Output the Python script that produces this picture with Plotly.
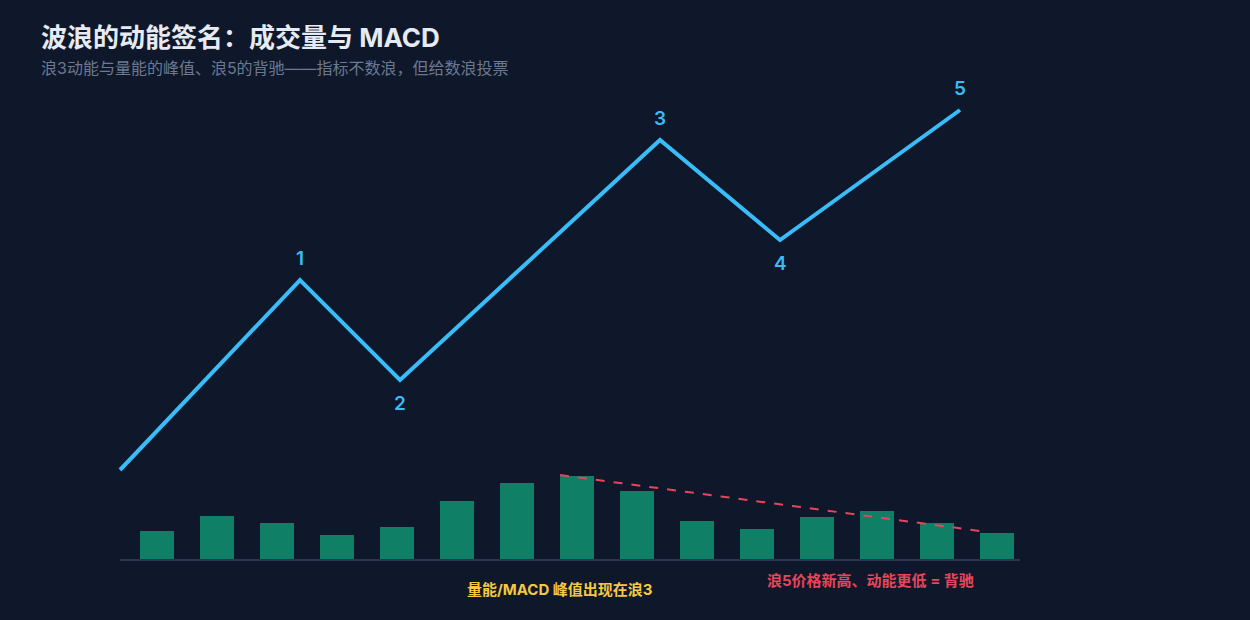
import plotly.graph_objects as go

# --- data ---
wave_labels = ["", "1", "2", "3", "4", "5"]
wave_time = [0, 9, 14, 27, 33, 42]          # time units
wave_price = [90, 280, 180, 420, 320, 450]  # price units
label_side = ["", "above", "below", "above", "below", "above"]

bar_index = list(range(15))
bar_momentum = [29, 44, 37, 25, 33, 59, 77, 84, 69, 39, 31, 43, 49, 37, 27]

div_time = [22, 43]
div_value = [85, 29]

title = "波浪的动能签名：成交量与 MACD"
subtitle = "浪3动能与量能的峰值、浪5的背驰——指标不数浪，但给数浪投票"
note_peak = "量能/MACD 峰值出现在浪3"
note_div = "浪5价格新高、动能更低 = 背驰"

BG = "#0f172a"
BLUE = "#38bdf8"
GREEN = "#0f8066"
RED = "#e8455a"
YELLOW = "#f5c842"
FONT = "Inter, Noto Sans CJK SC"

bar_time = [3 * i + 1.85 for i in bar_index]

fig = go.Figure()

# baseline
fig.add_trace(go.Scatter(x=[0, 45], y=[0, 0], mode="lines",
                         line=dict(color="#2a3650", width=2), hoverinfo="skip"))

fig.add_trace(go.Bar(x=bar_time, y=bar_momentum, width=1.7,
                     marker=dict(color=GREEN, line=dict(width=0)), hoverinfo="skip"))

fig.add_trace(go.Scatter(x=div_time, y=div_value, mode="lines",
                         line=dict(color=RED, width=2, dash="dash"), hoverinfo="skip"))

fig.add_trace(go.Scatter(x=wave_time, y=wave_price, mode="lines",
                         line=dict(color=BLUE, width=4), hoverinfo="skip"))

for t, p, lab, side in zip(wave_time, wave_price, wave_labels, label_side):
    if not lab:
        continue
    fig.add_annotation(x=t, y=p, text=lab, showarrow=False,
                       yshift=22 if side == "above" else -23,
                       font=dict(family=FONT, size=19, color=BLUE, weight=600))

# title block, placed in paper coords
fig.add_annotation(x=0.0315, y=1 - 37 / 620, xref="paper", yref="paper", text=f"<b>{title}</b>",
                   showarrow=False, xanchor="left", yanchor="middle",
                   font=dict(family=FONT, size=26, color="#e6ebf3"))
fig.add_annotation(x=0.0315, y=1 - 68 / 620, xref="paper", yref="paper", text=subtitle,
                   showarrow=False, xanchor="left", yanchor="middle",
                   font=dict(family=FONT, size=16, color="#6b7a90"))

fig.add_annotation(x=22, y=-29, text=f"<b>{note_peak}</b>", showarrow=False,
                   xanchor="center", yanchor="middle",
                   font=dict(family=FONT, size=15, color=YELLOW))
fig.add_annotation(x=37.5, y=-20, text=f"<b>{note_div}</b>", showarrow=False,
                   xanchor="center", yanchor="middle",
                   font=dict(family=FONT, size=15, color=RED))

fig.update_layout(
    width=1250, height=620,
    margin=dict(l=0, r=0, t=0, b=0),
    paper_bgcolor=BG, plot_bgcolor=BG,
    showlegend=False,
    bargap=0,
    xaxis=dict(range=[-6, 56.5], visible=False, fixedrange=True),
    yaxis=dict(range=[-60, 560], visible=False, fixedrange=True),
)

fig.write_html("out.html", config={"displayModeBar": False})
